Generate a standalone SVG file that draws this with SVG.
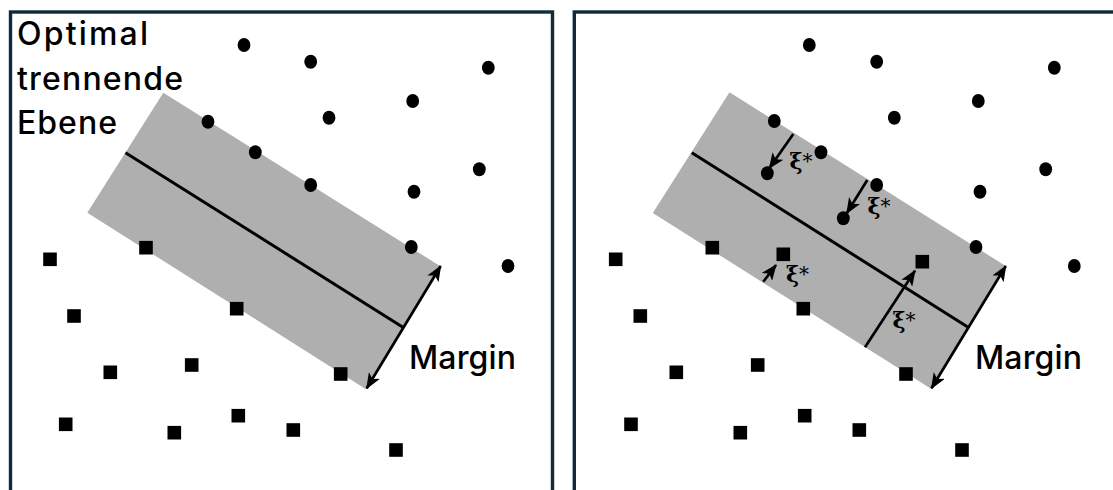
<svg xmlns="http://www.w3.org/2000/svg" width="1113" height="490" viewBox="0 0 1113 490">
<style>
.frame{fill:none;stroke:#0f2a3a;stroke-width:3.4}
.band{fill:#afafaf}
.hp{stroke:#000;stroke-width:3;fill:none}
.arr{stroke:#000;stroke-width:2.7;fill:none;marker-end:url(#ah)}
.arr2{stroke:#000;stroke-width:2.7;fill:none;marker-end:url(#ah);marker-start:url(#ah)}
.pt{fill:#000}
.lbl{font-family:Inter,"Open Sans","Liberation Sans",sans-serif;font-size:32px;font-weight:500;fill:#000}
.xi{font-family:"DejaVu Serif","Liberation Serif",serif;font-size:22px;font-weight:bold;fill:#000}
.st{font-size:20px;font-weight:normal}
</style>
<defs>
<marker id="ah" viewBox="0 0 16 13" refX="15" refY="6.5" markerWidth="16" markerHeight="13" markerUnits="userSpaceOnUse" orient="auto-start-reverse">
<path d="M0,0 L16,6.5 L0,13 L4,6.5 z" fill="#000"/>
</marker>
<ellipse id="c" class="pt" rx="6.4" ry="7"/>
<rect id="s" class="pt" x="-6.8" y="-6.8" width="13.6" height="13.6"/>
</defs>

<g id="panel-left">
<rect class="frame" x="10.5" y="12" width="542" height="500"/>
<polygon id="band-left" class="band" points="163.3,92.7 440,266 366,389.3 87.3,212.7"/>
<g id="labels-left">
<text class="lbl" x="17" y="45" textLength="131" lengthAdjust="spacing">Optimal</text>
<text class="lbl" x="17" y="90" textLength="166" lengthAdjust="spacing">trennende</text>
<text class="lbl" x="17" y="134" textLength="100" lengthAdjust="spacing">Ebene</text>
<text class="lbl" x="409" y="369" textLength="107" lengthAdjust="spacing">Margin</text>
</g>
<g id="circles-left">
<use href="#c" x="244" y="45"/><use href="#c" x="310.7" y="61.7"/><use href="#c" x="488.3" y="67.7"/>
<use href="#c" x="412.7" y="101"/><use href="#c" x="329" y="117.7"/><use href="#c" x="208" y="121.7"/>
<use href="#c" x="255.3" y="152.3"/><use href="#c" x="479.3" y="169.3"/><use href="#c" x="310.7" y="185"/>
<use href="#c" x="414" y="191.7"/><use href="#c" x="411.3" y="247"/><use href="#c" x="508" y="266"/>
</g>
<g id="squares-left">
<use href="#s" x="50" y="259.3"/><use href="#s" x="146" y="247.7"/><use href="#s" x="74" y="316"/>
<use href="#s" x="236.7" y="308.7"/><use href="#s" x="110.3" y="372.3"/><use href="#s" x="191.7" y="365"/>
<use href="#s" x="65.7" y="424.3"/><use href="#s" x="174.3" y="432.7"/><use href="#s" x="238.3" y="415.7"/>
<use href="#s" x="340.7" y="374"/><use href="#s" x="293.3" y="430"/><use href="#s" x="396" y="450"/>
</g>
</g>

<g id="panel-right">
<rect class="frame" x="574.3" y="12" width="560" height="500"/>
<polygon id="band-right" class="band" points="729.5,92.2 1005.7,266 931,388.8 652.8,213"/>
<g id="labels-right">
<text class="lbl" x="975" y="369" textLength="107" lengthAdjust="spacing">Margin</text>
<text class="xi" x="789.5" y="169">ξ<tspan class="st" dy="-1">*</tspan></text>
<text class="xi" x="867.5" y="214">ξ<tspan class="st" dy="-1">*</tspan></text>
<text class="xi" x="786" y="282">ξ<tspan class="st" dy="-1">*</tspan></text>
<text class="xi" x="892.5" y="328">ξ<tspan class="st" dy="-1">*</tspan></text>
</g>
<g id="circles-right">
<use href="#c" x="809.3" y="45"/><use href="#c" x="876.7" y="61.7"/><use href="#c" x="1054.3" y="67.7"/>
<use href="#c" x="978.3" y="101"/><use href="#c" x="894.3" y="117.7"/><use href="#c" x="774.3" y="121"/>
<use href="#c" x="821" y="152.3"/><use href="#c" x="1045.7" y="169.3"/><use href="#c" x="876.7" y="185"/>
<use href="#c" x="980" y="191.7"/><use href="#c" x="976" y="247"/><use href="#c" x="1074.3" y="266"/>
<use href="#c" x="767.3" y="173.3"/><use href="#c" x="843.3" y="218.3"/>
</g>
<g id="squares-right">
<use href="#s" x="615.7" y="259.3"/><use href="#s" x="712.3" y="247.7"/><use href="#s" x="640.3" y="316"/>
<use href="#s" x="803.3" y="308.7"/><use href="#s" x="676.3" y="372.3"/><use href="#s" x="757.7" y="365"/>
<use href="#s" x="631" y="424.3"/><use href="#s" x="740.3" y="432.7"/><use href="#s" x="804.7" y="415.7"/>
<use href="#s" x="906" y="374"/><use href="#s" x="859.3" y="430"/><use href="#s" x="962" y="450"/>
<use href="#s" x="783.3" y="254.3"/><use href="#s" x="922.3" y="261.7"/>
</g>
</g>

<g id="connectors">
<line class="hp" x1="125.5" y1="152.7" x2="403.3" y2="327.5"/>
<line class="arr2" x1="366.7" y1="388.3" x2="440.7" y2="266"/>
<line class="hp" x1="691.8" y1="152.7" x2="968.5" y2="327.5"/>
<line class="arr2" x1="931.5" y1="388.3" x2="1005.8" y2="266"/>
<line class="arr" x1="793.3" y1="134" x2="769.3" y2="168.3"/>
<line class="arr" x1="867.3" y1="180" x2="846.7" y2="213.3"/>
<line class="arr" x1="763.3" y1="281.7" x2="776" y2="265"/>
<line class="arr" x1="865" y1="347.3" x2="915" y2="270.7"/>
</g>
</svg>
